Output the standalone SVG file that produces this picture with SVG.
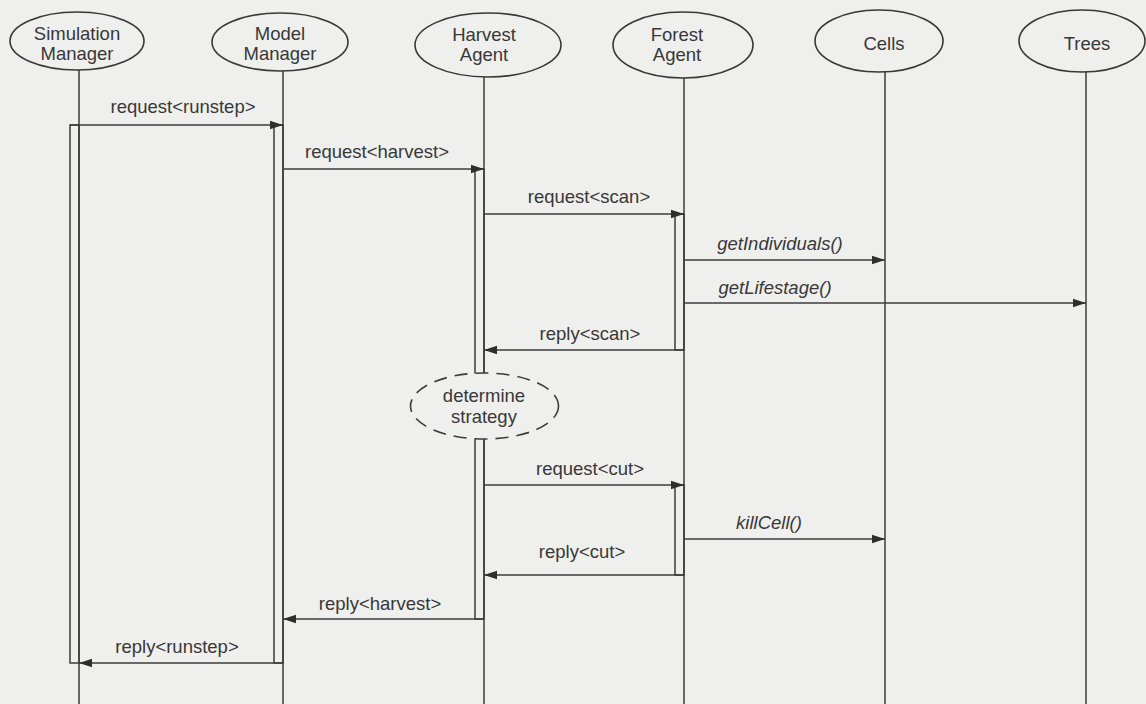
<svg xmlns="http://www.w3.org/2000/svg" width="1146" height="704" viewBox="0 0 1146 704">
  <style>
    .paper { fill: #efefed; }
    .node ellipse { fill: #efefed; stroke: #383838; stroke-width: 1.6; }
    .label { font-family: "Liberation Sans", Arial, Helvetica, sans-serif; font-size: 18.5px; fill: #383838; text-anchor: middle; }
    .call { font-style: italic; }
    .life { stroke: #3c3c3c; stroke-width: 1.5; fill: none; }
    .act { stroke: #3c3c3c; stroke-width: 1.5; fill: none; }
    .msg { stroke: #3c3c3c; stroke-width: 1.6; fill: none; marker-end: url(#head); }
    .step ellipse { fill: #efefed; stroke: #3c3c3c; stroke-width: 1.6; stroke-dasharray: 13 8; }
  </style>
  <defs>
    <marker id="head" markerUnits="userSpaceOnUse" markerWidth="14" markerHeight="10" refX="13" refY="5" orient="auto">
      <path d="M0,0.8 L13,5 L0,9.2 Z" fill="#2e2e2e"/>
    </marker>
  </defs>

  <rect class="paper" x="0" y="0" width="1146" height="704"/>

  <!-- lifelines and activation bars -->
  <g id="lifelines">
    <line class="life" x1="79" y1="70" x2="79" y2="704"/>
    <line class="life" x1="283" y1="71" x2="283" y2="704"/>
    <line class="life" x1="484" y1="77" x2="484" y2="704"/>
    <line class="life" x1="684" y1="78" x2="684" y2="704"/>
    <line class="life" x1="885" y1="72" x2="885" y2="704"/>
    <line class="life" x1="1086" y1="72" x2="1086" y2="704"/>
    <rect class="act" x="70" y="125" width="9" height="538"/>
    <rect class="act" x="274" y="125" width="9" height="538"/>
    <rect class="act" x="475" y="169" width="9" height="450"/>
    <rect class="act" x="675" y="214" width="9" height="136"/>
    <rect class="act" x="675" y="485" width="9" height="90"/>
  </g>

  <!-- object nodes -->
  <g id="simulation-manager" class="node">
    <ellipse cx="77" cy="41" rx="67" ry="29"/>
    <text class="label" x="77" y="40">Simulation</text>
    <text class="label" x="77" y="60">Manager</text>
  </g>
  <g id="model-manager" class="node">
    <ellipse cx="280" cy="42" rx="68" ry="29"/>
    <text class="label" x="280" y="40">Model</text>
    <text class="label" x="280" y="60">Manager</text>
  </g>
  <g id="harvest-agent" class="node">
    <ellipse cx="488" cy="45" rx="73" ry="32"/>
    <text class="label" x="484" y="41">Harvest</text>
    <text class="label" x="484" y="61">Agent</text>
  </g>
  <g id="forest-agent" class="node">
    <ellipse cx="683" cy="45" rx="70" ry="33"/>
    <text class="label" x="677" y="41">Forest</text>
    <text class="label" x="677" y="61">Agent</text>
  </g>
  <g id="cells" class="node">
    <ellipse cx="879" cy="41" rx="64" ry="31"/>
    <text class="label" x="884" y="50">Cells</text>
  </g>
  <g id="trees" class="node">
    <ellipse cx="1082" cy="41" rx="63" ry="31"/>
    <text class="label" x="1087" y="50">Trees</text>
  </g>

  <!-- internal step on the harvest agent's activation -->
  <g id="determine-strategy" class="step">
    <ellipse cx="484.5" cy="406" rx="74" ry="33"/>
    <text class="label" x="484" y="402">determine</text>
    <text class="label" x="484" y="423">strategy</text>
  </g>

  <!-- messages -->
  <g id="connectors">
    <line class="msg" x1="70" y1="125" x2="283" y2="125"/>
    <line class="msg" x1="283" y1="169" x2="484" y2="169"/>
    <line class="msg" x1="484" y1="214" x2="684" y2="214"/>
    <line class="msg" x1="684" y1="260" x2="885" y2="260"/>
    <line class="msg" x1="684" y1="303" x2="1086" y2="303"/>
    <line class="msg" x1="684" y1="350" x2="484" y2="350"/>
    <line class="msg" x1="484" y1="485" x2="684" y2="485"/>
    <line class="msg" x1="684" y1="539" x2="885" y2="539"/>
    <line class="msg" x1="684" y1="575" x2="484" y2="575"/>
    <line class="msg" x1="484" y1="619" x2="283" y2="619"/>
    <line class="msg" x1="283" y1="663" x2="79" y2="663"/>
  </g>

  <!-- message labels -->
  <g id="message-labels">
    <text class="label" x="183" y="113">request&lt;runstep&gt;</text>
    <text class="label" x="377" y="158">request&lt;harvest&gt;</text>
    <text class="label" x="589" y="203">request&lt;scan&gt;</text>
    <text class="label call" x="780" y="250">getIndividuals()</text>
    <text class="label call" x="775" y="294">getLifestage()</text>
    <text class="label" x="590" y="340">reply&lt;scan&gt;</text>
    <text class="label" x="590" y="475">request&lt;cut&gt;</text>
    <text class="label call" x="769" y="529">killCell()</text>
    <text class="label" x="582" y="558">reply&lt;cut&gt;</text>
    <text class="label" x="380" y="610">reply&lt;harvest&gt;</text>
    <text class="label" x="177" y="653">reply&lt;runstep&gt;</text>
  </g>
</svg>
